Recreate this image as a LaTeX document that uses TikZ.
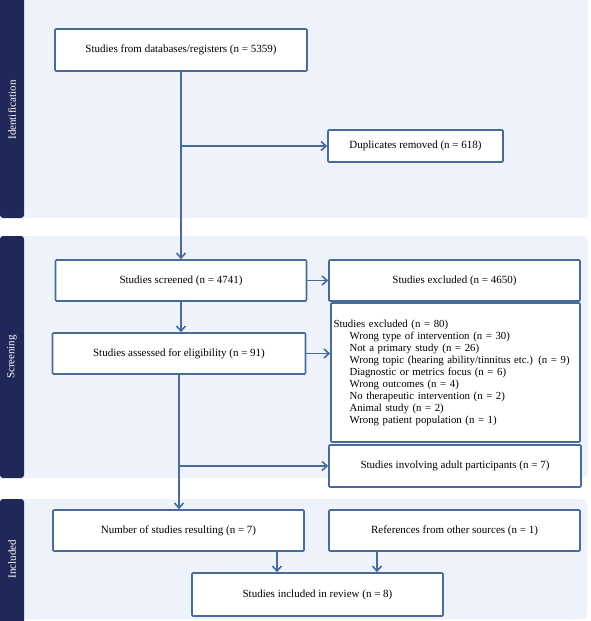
\documentclass[tikz,border=0pt]{standalone}
\usepackage{fontspec}
\setmainfont{Liberation Serif}
\usetikzlibrary{arrows.meta,calc}
\definecolor{panelbg}{HTML}{EEF3FB}
\definecolor{navy}{HTML}{1F2859}
\definecolor{edge}{HTML}{4A6A9A}
\tikzset{
  panel/.style={fill=panelbg, draw=none, rounded corners=5pt},
  sidebar/.style={fill=navy, draw=none, rounded corners=3pt},
  sidelabel/.style={text=white, rotate=90, font=\fontsize{11}{13}\selectfont},
  box/.style={draw=edge, line width=1.6pt, fill=white, rounded corners=1pt, inner sep=0pt, align=center, font=\fontsize{11}{12}\selectfont},
  listbox/.style={box, align=left, font=\fontsize{10.8}{12}\selectfont},
  conn/.style={draw=edge, line width=1.6pt},
  arr/.style={conn, -{Straight Barb[length=5pt,width=9pt,line width=1.6pt]}},
}
\begin{document}
\begin{tikzpicture}[x=1pt,y=-1pt]
\useasboundingbox (0,0) rectangle (591,621);
% panels
\fill[panel] (0,-5) rectangle (588,218);
\fill[sidebar] (0,-5) rectangle (24,218);
\node[sidelabel] (lid) at (12,110) {Identification};
\fill[panel] (0,236) rectangle (588,478);
\fill[sidebar] (0,236) rectangle (24,478);
\node[sidelabel] (lsc) at (12,357) {Screening};
\fill[panel] (0,499) rectangle (587,619);
\fill[sidebar] (0,499) rectangle (24,626);
\node[sidelabel] (lin) at (12,559) {Included};
% boxes
\node[box, minimum width=252pt, minimum height=42pt] (db) at (181,50) {Studies from databases/registers (n = 5359)};
\node[box, minimum width=175pt, minimum height=32pt] (dup) at (415.5,146) {Duplicates removed (n = 618)};
\node[box, minimum width=251pt, minimum height=41pt] (scr) at (181,280.5) {Studies screened (n = 4741)};
\node[box, minimum width=251pt, minimum height=41pt] (exa) at (454.5,280.5) {Studies excluded (n = 4650)};
\node[box, minimum width=253pt, minimum height=41pt] (asm) at (179,353.5) {Studies assessed for eligibility (n = 91)};
\node[listbox, minimum width=249pt, minimum height=139pt, text width=244pt] (exb) at (455.5,372.5) {%
Studies excluded (n = 80)\\
\hspace*{16pt}Wrong type of intervention (n = 30)\\
\hspace*{16pt}Not a primary study (n = 26)\\
\hspace*{16pt}Wrong topic (hearing ability/tinnitus etc.) (n = 9)\\
\hspace*{16pt}Diagnostic or metrics focus (n = 6)\\
\hspace*{16pt}Wrong outcomes (n = 4)\\
\hspace*{16pt}No therapeutic intervention (n = 2)\\
\hspace*{16pt}Animal study (n = 2)\\
\hspace*{16pt}Wrong patient population (n = 1)};
\node[box, minimum width=252pt, minimum height=42pt] (adu) at (455,466) {Studies involving adult participants (n = 7)};
\node[box, minimum width=251pt, minimum height=41pt] (num) at (178.5,530.5) {Number of studies resulting (n = 7)};
\node[box, minimum width=251pt, minimum height=41pt] (ref) at (454.5,530.5) {References from other sources (n = 1)};
\node[box, minimum width=251pt, minimum height=43pt] (inc) at (317.5,594.5) {Studies included in review (n = 8)};
% connectors
\coordinate (j1) at (db.south |- dup.west);
\draw[arr] (db.south) -- (db.south |- scr.north);
\draw[arr] (j1) -- (dup.west);
\draw[arr] (scr.east) -- (exa.west);
\draw[arr] (scr.south) -- (scr.south |- asm.north);
\draw[arr] (asm.east) -- (asm.east -| exb.west);
\coordinate (j2) at (asm.south |- adu.west);
\draw[arr] (asm.south) -- (asm.south |- num.north);
\draw[arr] (j2) -- (adu.west);
\draw[arr] ([xshift=-40.5pt]inc.north |- num.south) -- ([xshift=-40.5pt]inc.north);
\draw[arr] ([xshift=59.5pt]inc.north |- ref.south) -- ([xshift=59.5pt]inc.north);
\end{tikzpicture}
\end{document}
